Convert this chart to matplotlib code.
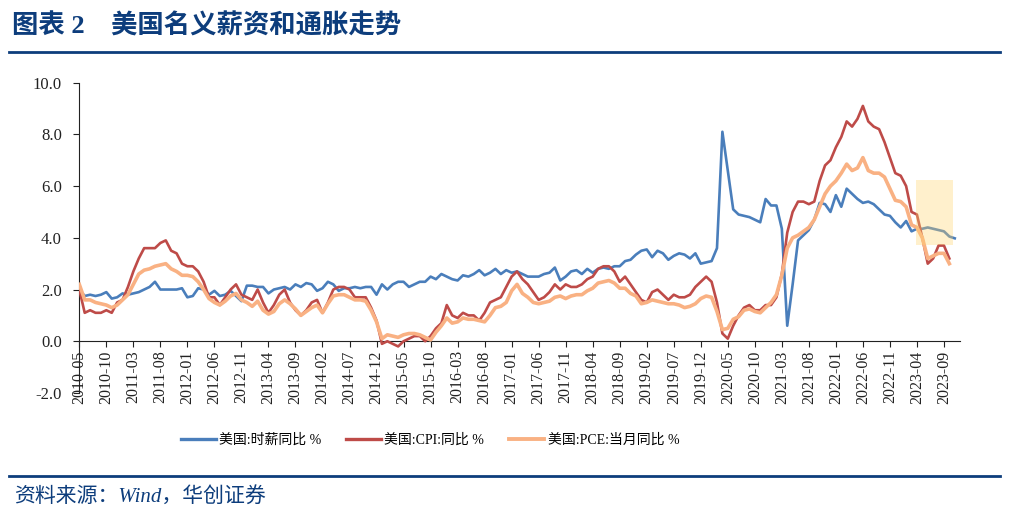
import matplotlib
matplotlib.use("Agg")
import matplotlib.pyplot as plt
from matplotlib.lines import Line2D
from matplotlib.patches import Rectangle
import pandas as pd

# monthly axis, 2010-05 .. 2023-11
months = [str(p) for p in pd.period_range("2010-05", "2023-11", freq="M")]

tick_labels = ["2010-05", "2010-10", "2011-03", "2011-08", "2012-01", "2012-06",
               "2012-11", "2013-04", "2013-09", "2014-02", "2014-07", "2014-12",
               "2015-05", "2015-10", "2016-03", "2016-08", "2017-01", "2017-06",
               "2017-11", "2018-04", "2018-09", "2019-02", "2019-07", "2019-12",
               "2020-05", "2020-10", "2021-03", "2021-08", "2022-01", "2022-06",
               "2022-11", "2023-04", "2023-09"]

# 美国:时薪同比 %  (2010-05 .. 2023-11)
wage = [2.0, 1.75, 1.8, 1.75, 1.8, 1.9, 1.65, 1.7,
        1.85, 1.8, 1.85, 1.9, 2.0, 2.1, 2.3, 2.0, 2.0, 2.0, 2.0, 2.05,
        1.7, 1.75, 2.05, 2.0, 1.8, 1.95, 1.75, 1.8, 1.95, 1.75, 1.55, 2.15,
        2.15, 2.1, 2.1, 1.85, 2.0, 2.05, 2.1, 2.0, 2.2, 2.1, 2.25, 2.2,
        1.95, 2.05, 2.3, 2.2, 1.95, 2.05, 2.05, 2.1, 2.05, 2.1, 2.1, 1.8,
        2.2, 2.0, 2.2, 2.3, 2.3, 2.1, 2.2, 2.3, 2.3, 2.5, 2.4, 2.6,
        2.5, 2.4, 2.35, 2.55, 2.5, 2.6, 2.75, 2.55, 2.65, 2.8, 2.6, 2.75,
        2.65, 2.7, 2.6, 2.5, 2.5, 2.5, 2.6, 2.65, 2.85, 2.35, 2.5, 2.7,
        2.75, 2.6, 2.8, 2.65, 2.8, 2.85, 2.8, 2.9, 2.9, 3.1, 3.15, 3.35,
        3.5, 3.55, 3.25, 3.5, 3.4, 3.15, 3.3, 3.4, 3.35, 3.2, 3.4, 3.0,
        3.05, 3.1, 3.6, 8.1, 6.6, 5.1, 4.9, 4.85, 4.8, 4.7, 4.6, 5.5,
        5.25, 5.25, 4.35, 0.6, 2.2, 3.9, 4.1, 4.3, 4.7, 5.35, 5.3, 5.0,
        5.65, 5.2, 5.9, 5.7, 5.5, 5.35, 5.4, 5.3, 5.1, 4.9, 4.85, 4.6,
        4.4, 4.65, 4.25, 4.35, 4.35, 4.4, 4.35, 4.3, 4.25, 4.05, 3.98]

# 美国:CPI:同比 %  (2010-05 .. 2023-10)
cpi = [2.0, 1.1, 1.2, 1.1, 1.1, 1.2, 1.1, 1.5,
       1.6, 2.1, 2.7, 3.2, 3.6, 3.6, 3.6, 3.8, 3.9, 3.5, 3.4, 3.0,
       2.9, 2.9, 2.7, 2.3, 1.7, 1.7, 1.4, 1.7, 2.0, 2.2, 1.8, 1.7,
       1.6, 2.0, 1.5, 1.1, 1.4, 1.8, 2.0, 1.5, 1.2, 1.0, 1.2, 1.5,
       1.6, 1.1, 1.5, 2.0, 2.1, 2.1, 2.0, 1.7, 1.7, 1.7, 1.3, 0.8,
       -0.1, 0.0, -0.1, -0.2, 0.0, 0.1, 0.2, 0.2, 0.0, 0.2, 0.5, 0.7,
       1.4, 1.0, 0.9, 1.1, 1.0, 1.0, 0.8, 1.1, 1.5, 1.6, 1.7, 2.1,
       2.5, 2.7, 2.4, 2.2, 1.9, 1.6, 1.7, 1.9, 2.2, 2.0, 2.2, 2.1,
       2.1, 2.2, 2.4, 2.5, 2.8, 2.9, 2.9, 2.7, 2.3, 2.5, 2.2, 1.9,
       1.6, 1.5, 1.9, 2.0, 1.8, 1.6, 1.8, 1.7, 1.7, 1.8, 2.1, 2.3,
       2.5, 2.3, 1.5, 0.3, 0.1, 0.6, 1.0, 1.3, 1.4, 1.2, 1.2, 1.4,
       1.4, 1.7, 2.6, 4.2, 5.0, 5.4, 5.4, 5.3, 5.4, 6.2, 6.8, 7.0,
       7.5, 7.9, 8.5, 8.3, 8.6, 9.1, 8.5, 8.3, 8.2, 7.7, 7.1, 6.5,
       6.4, 6.0, 5.0, 4.9, 4.0, 3.0, 3.2, 3.7, 3.7, 3.2]

# 美国:PCE:当月同比 %  (2010-05 .. 2023-10)
pce = [2.2, 1.6, 1.6, 1.5, 1.45, 1.4, 1.3, 1.4,
       1.6, 1.8, 2.2, 2.6, 2.75, 2.8, 2.9, 2.95, 3.0, 2.8, 2.7, 2.55,
       2.55, 2.5, 2.3, 2.0, 1.65, 1.5, 1.4, 1.55, 1.75, 1.85, 1.6, 1.5,
       1.35, 1.55, 1.2, 1.05, 1.15, 1.45, 1.6, 1.45, 1.25, 1.0, 1.15, 1.3,
       1.4, 1.1, 1.45, 1.75, 1.8, 1.8, 1.7, 1.6, 1.6, 1.55, 1.2, 0.75,
       0.1, 0.25, 0.2, 0.15, 0.25, 0.3, 0.3, 0.25, 0.15, 0.05, 0.35, 0.6,
       0.9, 0.7, 0.75, 0.9, 0.85, 0.85, 0.8, 0.75, 1.0, 1.3, 1.35, 1.5,
       1.95, 2.2, 1.85, 1.7, 1.5, 1.45, 1.5, 1.55, 1.7, 1.75, 1.65, 1.75,
       1.8, 1.8, 1.95, 2.05, 2.25, 2.3, 2.35, 2.25, 2.05, 2.05, 1.85, 1.75,
       1.45, 1.5, 1.6, 1.55, 1.5, 1.45, 1.45, 1.4, 1.3, 1.35, 1.45, 1.65,
       1.75, 1.7, 1.15, 0.45, 0.5, 0.85, 0.95, 1.2, 1.25, 1.15, 1.1, 1.3,
       1.5, 1.8, 2.55, 3.6, 4.0, 4.1, 4.25, 4.4, 4.7, 5.2, 5.7, 6.0,
       6.2, 6.5, 6.85, 6.6, 6.7, 7.1, 6.6, 6.5, 6.5, 6.35, 5.9, 5.45,
       5.4, 5.2, 4.5, 4.4, 4.0, 3.2, 3.3, 3.4, 3.4, 3.0]

NAVY = "#0d3d7c"
plt.rcParams["font.family"] = ["Liberation Serif", "Noto Sans CJK SC"]

fig = plt.figure(figsize=(10.09, 5.19), dpi=100)
ax = fig.add_axes([0.0786, 0.2428, 0.873, 0.598])

# spine position first: moving it resets the tick label styling
for s in ["top", "right"]:
    ax.spines[s].set_visible(False)
ax.spines["bottom"].set_position(("data", 0))
ax.spines["left"].set_color("#222222")
ax.spines["bottom"].set_color("#222222")

x_wage = list(range(len(wage)))
x_cpi = list(range(len(cpi)))
x_pce = list(range(len(pce)))

ax.plot(x_wage, wage, color="#4a7ebb", linewidth=1.9, label="美国:时薪同比 %", zorder=3)
ax.plot(x_cpi, cpi, color="#be4b48", linewidth=1.9, label="美国:CPI:同比 %", zorder=3)
ax.plot(x_pce, pce, color="#f9b183", linewidth=2.6, label="美国:PCE:当月同比 %", zorder=3)

# highlight box (recent months)
ax.add_patch(Rectangle((154.8, 3.72), 6.9, 2.53, facecolor="#ffd46d",
                       alpha=0.35, edgecolor="none", zorder=5))

ax.set_xlim(0, 163)
ax.set_ylim(-2, 10)
ax.set_yticks([-2, 0, 2, 4, 6, 8, 10])
ax.set_yticklabels(["%.1f" % v for v in [-2, 0, 2, 4, 6, 8, 10]])
ax.set_xticks([months.index(t) for t in tick_labels])
ax.set_xticklabels(tick_labels)

ax.tick_params(axis="y", direction="out", length=4.5, width=0.8, pad=8,
               labelsize=12, colors="#222222")
ax.tick_params(axis="x", direction="out", length=4.5, width=0.8, pad=2,
               labelsize=11.5, colors="#222222", labelrotation=90)
for lab in ax.get_xticklabels():
    lab.set_ha("center")
    lab.set_va("top")

handles = [Line2D([], [], color="#4a7ebb", lw=2.4),
           Line2D([], [], color="#be4b48", lw=2.4),
           Line2D([], [], color="#f9b183", lw=2.8)]
fig.legend(handles, ["美国:时薪同比 %", "美国:CPI:同比 %", "美国:PCE:当月同比 %"],
           loc="center", bbox_to_anchor=(430 / 1009, 1 - 440 / 519), ncol=3,
           frameon=False, handlelength=2.5, handletextpad=0.25, columnspacing=1.8,
           prop={"family": ["Liberation Serif", "Noto Sans CJK SC"], "size": 10})

# title, rules and source
fig.text(12 / 1009, 1 - 26 / 519, "图表 2\u3000美国名义薪资和通胀走势", color=NAVY,
         fontsize=19, fontweight="bold", va="center", ha="left",
         family=["Liberation Serif", "Noto Sans CJK SC"])
fig.add_artist(Line2D([9 / 1009, 1000 / 1009], [1 - 52 / 519, 1 - 52 / 519],
                      color=NAVY, lw=2.0))
fig.add_artist(Line2D([9 / 1009, 1000 / 1009], [1 - 476 / 519, 1 - 476 / 519],
                      color=NAVY, lw=2.0))
fig.text(14 / 1009, 1 - 497 / 519, "资料来源：Wind，华创证券", color=NAVY,
         fontsize=15, style="italic", va="center", ha="left",
         family=["Liberation Serif", "Noto Sans CJK SC"])

fig.savefig("out.png", dpi=100)
